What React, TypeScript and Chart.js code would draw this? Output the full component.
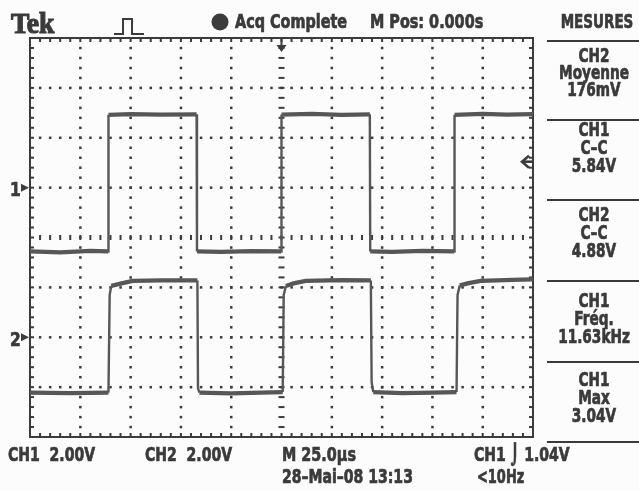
import React, { useEffect, useRef } from "react";
import { Chart, registerables } from "chart.js";

Chart.register(...registerables);

// ---- scope settings ----
const usPerDiv = 25;
const voltsPerDiv = 2;
const ch1Offset = 1; // divisions above centre
const ch2Offset = -2; // divisions below centre
const trigLevel = 1.04; // V on CH1
const xDivLines = [-125, -100, -75, -50, -25, 0, 25, 50, 75, 100, 125];
const yDivLines = [-4, -3, -2, -1, 0, 1, 2, 3, 4];

// ---- traces (time in µs, value in V) ----
const ch1Times = [-125, -110, -95, -86.2, -86.0, -75, -60, -42.2, -42.0, -30, -15, -0.2, 0.0, 15, 30, 43.9, 44.1, 55, 70, 85.8, 86.0, 100, 112, 125];
const ch1Volts = [-2.56, -2.60, -2.54, -2.56, 2.92, 2.95, 2.93, 2.94, -2.56, -2.58, -2.55, -2.56, 2.93, 2.96, 2.92, 2.94, -2.56, -2.58, -2.54, -2.56, 2.92, 2.96, 2.93, 2.95];

const ch2Times = [-125, -105, -86.0, -85.4, -84.6, -80, -74, -60, -41.8, -41.5, -40.8, -25, -10, 0.6, 1.1, 2.2, 6, 12, 30, 44.4, 44.8, 45.6, 60, 75, 87.0, 87.5, 88.6, 93, 99, 115, 125];
const ch2Volts = [-2.22, -2.24, -2.22, 1.7, 2.06, 2.15, 2.26, 2.28, 2.28, -2.05, -2.22, -2.25, -2.22, -2.2, 1.7, 2.06, 2.16, 2.26, 2.29, 2.28, -1.8, -2.2, -2.24, -2.22, -2.2, 1.7, 2.08, 2.17, 2.26, 2.3, 2.32];

// ---- text ----
const headerTexts = ["Tek", "Acq Complete", "M Pos: 0.000s"];
const panelTitle = "MESURES";
const measurements = [
  ["CH2", "Moyenne", "176mV"],
  ["CH1", "C\u2013C", "5.84V"],
  ["CH2", "C\u2013C", "4.88V"],
  ["CH1", "Fréq.", "11.63kHz"],
  ["CH1", "Max", "3.04V"],
];
const footerTexts = ["CH1  2.00V", "CH2  2.00V", "M 25.0\u00b5s", "CH1 \u2321 1.04V", "28\u2013Mai\u201308 13:13", "<10Hz"];

const FONT = '"Liberation Sans Narrow", "DejaVu Sans Condensed", "Roboto Condensed", "Arial Narrow", sans-serif';
const INK = "#3a3a3a";
const GRID = "#3c3c3c";
const TRACE = "#575757";

const toDiv = (v: number, off: number) => v / voltsPerDiv + off;

const scopePlugin = {
  id: "scopeGrid",
  beforeDatasetsDraw(chart: any) {
    const { ctx, chartArea, scales } = chart;
    const { left, right, top, bottom } = chartArea;
    const xs = scales.x;
    const ys = scales.y;
    ctx.save();
    ctx.fillStyle = GRID;
    const sub = usPerDiv / 5;
    for (const t of xDivLines) {
      if (t === xDivLines[0] || t === xDivLines[xDivLines.length - 1]) continue;
      const px = xs.getPixelForValue(t);
      for (let k = -19; k <= 19; k++) {
        const py = ys.getPixelForValue(k * 0.2);
        if (t === 0) ctx.fillRect(px - 3, py - 1, 6, 2);
        else ctx.fillRect(px - 1.2, py - 1.2, 2.5, 2.5);
      }
    }
    for (const d of yDivLines) {
      if (d === yDivLines[0] || d === yDivLines[yDivLines.length - 1]) continue;
      const py = ys.getPixelForValue(d);
      for (let t = xDivLines[0] + sub; t < xDivLines[xDivLines.length - 1] - 0.01; t += sub) {
        const px = xs.getPixelForValue(t);
        if (d === 0) ctx.fillRect(px - 1, py - 2.5, 2, 5);
        else ctx.fillRect(px - 1.2, py - 1.2, 2.5, 2.5);
      }
    }
    ctx.strokeStyle = GRID;
    ctx.lineWidth = 2;
    ctx.strokeRect(left, top, right - left, bottom - top);
    for (let t = xDivLines[0] + sub; t < xDivLines[xDivLines.length - 1] - 0.01; t += sub) {
      const px = xs.getPixelForValue(t);
      ctx.fillRect(px - 1, top, 2, 4);
      ctx.fillRect(px - 1, bottom - 4, 2, 4);
    }
    for (let k = -19; k <= 19; k++) {
      const py = ys.getPixelForValue(k * 0.2);
      ctx.fillRect(left, py - 1, 4, 2);
      ctx.fillRect(right - 4, py - 1, 4, 2);
    }
    ctx.restore();
  },
  afterDraw(chart: any) {
    const { ctx, chartArea, scales } = chart;
    const { right, top, left } = chartArea;
    const xs = scales.x;
    const ys = scales.y;
    ctx.save();
    ctx.fillStyle = GRID;
    ctx.strokeStyle = GRID;
    for (const off of [ch1Offset, ch2Offset]) {
      const py = ys.getPixelForValue(off);
      ctx.beginPath();
      ctx.moveTo(left - 9, py - 4);
      ctx.lineTo(left - 1, py);
      ctx.lineTo(left - 9, py + 4);
      ctx.closePath();
      ctx.fill();
    }
    const tx = xs.getPixelForValue(0);
    ctx.lineWidth = 2;
    ctx.beginPath();
    ctx.moveTo(tx, top + 1);
    ctx.lineTo(tx, top + 12);
    ctx.stroke();
    ctx.beginPath();
    ctx.moveTo(tx - 5, top + 7);
    ctx.lineTo(tx, top + 14);
    ctx.lineTo(tx + 5, top + 7);
    ctx.closePath();
    ctx.fill();
    const ly = ys.getPixelForValue(toDiv(trigLevel, ch1Offset));
    ctx.lineWidth = 2.6;
    ctx.beginPath();
    ctx.moveTo(right - 4, ly - 6);
    ctx.lineTo(right - 11, ly);
    ctx.lineTo(right - 4, ly + 6);
    ctx.stroke();
    ctx.beginPath();
    ctx.moveTo(right - 9, ly);
    ctx.lineTo(right - 1, ly);
    ctx.stroke();
    // pulse icon
    ctx.lineWidth = 2;
    ctx.beginPath();
    ctx.moveTo(114, 34);
    ctx.lineTo(123, 34);
    ctx.lineTo(123, 19);
    ctx.lineTo(132, 19);
    ctx.lineTo(132, 34);
    ctx.lineTo(144, 34);
    ctx.stroke();
    // acquisition dot
    ctx.beginPath();
    ctx.arc(220, 22, 8.5, 0, Math.PI * 2);
    ctx.fill();
    ctx.restore();
  },
};

function Txt(props: { x: number; y: number; size?: number; sx?: number; align?: "left" | "center"; family?: string; stroke?: number; children: any }) {
  const size = props.size || 20;
  const sx = props.sx === undefined ? 0.8 : props.sx;
  const lh = 20;
  const center = props.align === "center";
  const st = props.stroke === undefined ? 0.7 : props.stroke;
  return (
    <div
      style={{
        position: "absolute",
        left: center ? props.x - 80 : props.x,
        top: props.y - lh / 2,
        width: center ? 160 : undefined,
        textAlign: center ? "center" : "left",
        lineHeight: lh + "px",
        fontSize: size,
        fontFamily: props.family || FONT,
        fontWeight: "bold",
        whiteSpace: "pre",
        color: INK,
        WebkitTextStroke: `${st}px ${INK}`,
        transform: `scaleX(${sx})`,
        transformOrigin: center ? "50% 50%" : "0 50%",
      }}
    >
      {props.children}
    </div>
  );
}

export default function App() {
  const ref = useRef<HTMLCanvasElement>(null);
  useEffect(() => {
    document.body.style.margin = "0";
    const ch1 = ch1Times.map((t, i) => ({ x: t, y: toDiv(ch1Volts[i], ch1Offset) }));
    const ch2 = ch2Times.map((t, i) => ({ x: t, y: toDiv(ch2Volts[i], ch2Offset) }));
    const edgeWidth = (c: any) => {
      const dx = Math.abs(c.p1.parsed.x - c.p0.parsed.x);
      return dx < 1.2 ? 2.4 : 4.2;
    };
    const chart = new Chart(ref.current as HTMLCanvasElement, {
      type: "scatter",
      data: {
        datasets: [
          { label: "CH1", data: ch1, showLine: true, borderColor: TRACE, borderWidth: 4.2, pointRadius: 0, tension: 0, segment: { borderWidth: edgeWidth } as any },
          { label: "CH2", data: ch2, showLine: true, borderColor: TRACE, borderWidth: 4.2, pointRadius: 0, tension: 0, segment: { borderWidth: edgeWidth } as any },
        ],
      },
      options: {
        animation: false,
        responsive: false,
        devicePixelRatio: 1,
        layout: { padding: { left: 30, right: 106, top: 38, bottom: 54 } },
        scales: {
          x: { type: "linear", min: xDivLines[0], max: xDivLines[xDivLines.length - 1], display: false },
          y: { type: "linear", min: yDivLines[0], max: yDivLines[yDivLines.length - 1], display: false },
        },
        plugins: { legend: { display: false }, tooltip: { enabled: false } },
      },
      plugins: [scopePlugin],
    });
    return () => chart.destroy();
  }, []);

  const sectionRows = [
    [55, 72, 89],
    [129, 147, 165],
    [214, 232, 250],
    [300, 318, 336],
    [379, 397, 415],
  ];
  const lines = [41, 120, 200, 281, 362, 442];

  return (
    <div style={{ position: "relative", width: 639, height: 491, background: "#fcfcfc", overflow: "hidden" }}>
      <canvas ref={ref} width={639} height={491} style={{ position: "absolute", left: 0, top: 0, width: 639, height: 491 }} />
      <Txt x={11} y={23} size={29} sx={0.95} stroke={1.2} family={'"Liberation Serif", "DejaVu Serif", serif'}>{headerTexts[0]}</Txt>
      <Txt x={235} y={21} size={20} sx={0.8}>{headerTexts[1]}</Txt>
      <Txt x={370} y={21} size={20} sx={0.8}>{headerTexts[2]}</Txt>
      <Txt x={597} y={21} size={20} sx={0.75} align="center">{panelTitle}</Txt>
      {lines.map((ly, i) => (
        <div key={"l" + i} style={{ position: "absolute", left: 547, top: ly - 1, width: 92, height: 2, background: INK }} />
      ))}
      {measurements.map((m, i) =>
        m.map((s, j) => (
          <Txt key={i + "-" + j} x={594} y={sectionRows[i][j]} size={20} sx={0.76} align="center">{s}</Txt>
        ))
      )}
      <Txt x={10} y={189} size={19} sx={0.9}>1</Txt>
      <Txt x={10} y={339} size={19} sx={0.9}>2</Txt>
      <Txt x={8} y={454} size={20} sx={0.78}>{footerTexts[0]}</Txt>
      <Txt x={145} y={454} size={20} sx={0.78}>{footerTexts[1]}</Txt>
      <Txt x={282} y={454} size={20} sx={0.8}>{footerTexts[2]}</Txt>
      <Txt x={474} y={454} size={20} sx={0.78}>{footerTexts[3]}</Txt>
      <Txt x={282} y={476} size={20} sx={0.78}>{footerTexts[4]}</Txt>
      <Txt x={477} y={476} size={20} sx={0.72}>{footerTexts[5]}</Txt>
    </div>
  );
}
